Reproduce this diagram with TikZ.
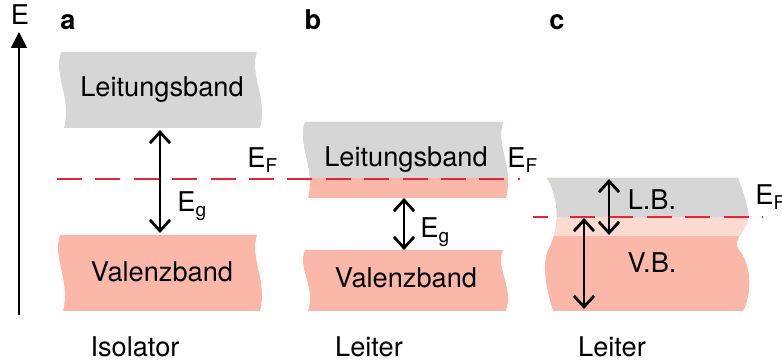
\documentclass[tikz,border=0pt]{standalone}
\usepackage{fontspec}
\setmainfont{TeX Gyre Heros}
\usetikzlibrary{arrows.meta}
\definecolor{cbgray}{RGB}{214,214,214}
\definecolor{cbpink}{RGB}{251,183,168}
\definecolor{cblight}{RGB}{253,219,210}
\definecolor{efred}{RGB}{226,38,60}
\newcommand\lowsub[1]{\raisebox{-2.5pt}{\fontsize{9.5}{10}\selectfont #1}}
\newcommand\bandpath[4]{(#1,#2) .. controls ({#1-8},{#2+0.3*(#4-#2)}) and ({#1+11},{#2+0.6*(#4-#2)}) .. ({#1+3},#4) -- ({#3+3},#4) .. controls ({#3+11},{#2+0.6*(#4-#2)}) and ({#3-8},{#2+0.3*(#4-#2)}) .. (#3,#2) -- cycle}
\tikzset{
  lbl/.style={inner sep=0pt, anchor=base, font=\fontsize{13.6}{16}\selectfont},
  lblw/.style={lbl, anchor=base west},
  panel/.style={lbl, font=\fontsize{13.6}{16}\selectfont\bfseries},
  gaparrow/.style={line width=1pt,
    {Straight Barb[length=5.5pt,width=10pt,line width=1.4pt]}-{Straight Barb[length=5.5pt,width=10pt,line width=1.4pt]}},
  axisarrow/.style={line width=0.9pt, -{Triangle[length=8pt,width=8pt]}},
  fermi/.style={draw=efred, line width=1.4pt, dash pattern=on 12.5pt off 6.7pt},
}
\begin{document}
\begin{tikzpicture}[x=0.5pt,y=-0.5pt]
\useasboundingbox (0,0) rectangle (782,362);

% bands a
\fill[cbgray] \bandpath{61}{52}{257}{128};
\fill[cbpink] \bandpath{60}{235}{257}{311};

% bands b
\begin{scope}
\fill[cbpink] \bandpath{305}{122}{503}{198};
\clip (280,100) rectangle (530,178);
\fill[cbgray] \bandpath{305}{122}{503}{198};
\end{scope}
\fill[cbpink] \bandpath{305}{250}{503}{311};

% band c
\begin{scope}
\def\cband{(738,178) -- (547,178) .. controls (560,200) and (560,228) .. (548,250) .. controls (540,270) and (550,300) .. (553,311) -- (743,311) .. controls (752,295) and (752,265) .. (739,250) .. controls (730,238) and (752,228) .. (748,212) .. controls (745,195) and (740,185) .. (738,178) -- cycle}
\fill[cbpink] \cband;
\begin{scope}
\clip (520,150) rectangle (770,236);
\fill[cblight] \cband;
\end{scope}
\begin{scope}
\clip (520,150) rectangle (770,217);
\fill[cbgray] \cband;
\end{scope}
\end{scope}

% Fermi levels
\coordinate (efAstart) at (57,179);
\coordinate (efAend) at (520,179);
\draw[fermi] (efAstart) -- (efAend);
\coordinate (efCstart) at (533,217);
\coordinate (efCmid) at (548,217);
\coordinate (efCdash) at (570,217);
\coordinate (efCend) at (763,217);
\draw[draw=efred, line width=1.4pt] (efCstart) -- (efCmid);
\draw[fermi] (efCdash) -- (efCend);

% energy axis
\coordinate (axbot) at (19,315);
\coordinate (axtop) at (19,32);
\draw[axisarrow] (axbot) -- (axtop);
\node[lbl] (Elab) at (20,25) {E};

% panel letters
\node[panel] (pa) at (68,30) {a};
\node[panel] (pb) at (313,30) {b};
\node[panel] (pc) at (557,30) {c};

% texts a
\node[lbl] (lba) at (162,97) {Leitungsband};
\node[lbl] (vba) at (162,282) {Valenzband};
\node[lblw] (efa) at (247,168) {E\lowsub{F}};
\node[lblw] (ega) at (177,212) {E\lowsub{g}};
\node[lbl] (isa) at (135,357) {Isolator};

% texts b
\node[lbl] (lbb) at (406,167) {Leitungsband};
\node[lbl] (vbb) at (406,288) {Valenzband};
\node[lblw] (efb) at (507,168) {E\lowsub{F}};
\node[lblw] (egb) at (420,238) {E\lowsub{g}};
\node[lbl] (leb) at (369,357) {Leiter};

% texts c
\node[lbl] (lbc) at (652,210) {L.B.};
\node[lbl] (vbc) at (652,273) {V.B.};
\node[lblw] (efc) at (755,205) {E\lowsub{F}};
\node[lbl] (lec) at (612,357) {Leiter};

% gap arrows
\coordinate (gaTop) at (160,130);
\coordinate (gaBot) at (160,233);
\draw[gaparrow] (gaTop) -- (gaBot);
\coordinate (gbTop) at (404,198);
\coordinate (gbBot) at (404,250);
\draw[gaparrow] (gbTop) -- (gbBot);
\coordinate (c1Top) at (609,179);
\coordinate (c1Bot) at (609,235);
\draw[gaparrow] (c1Top) -- (c1Bot);
\coordinate (c2Top) at (584,218);
\coordinate (c2Bot) at (584,309);
\draw[gaparrow] (c2Top) -- (c2Bot);
\end{tikzpicture}
\end{document}
